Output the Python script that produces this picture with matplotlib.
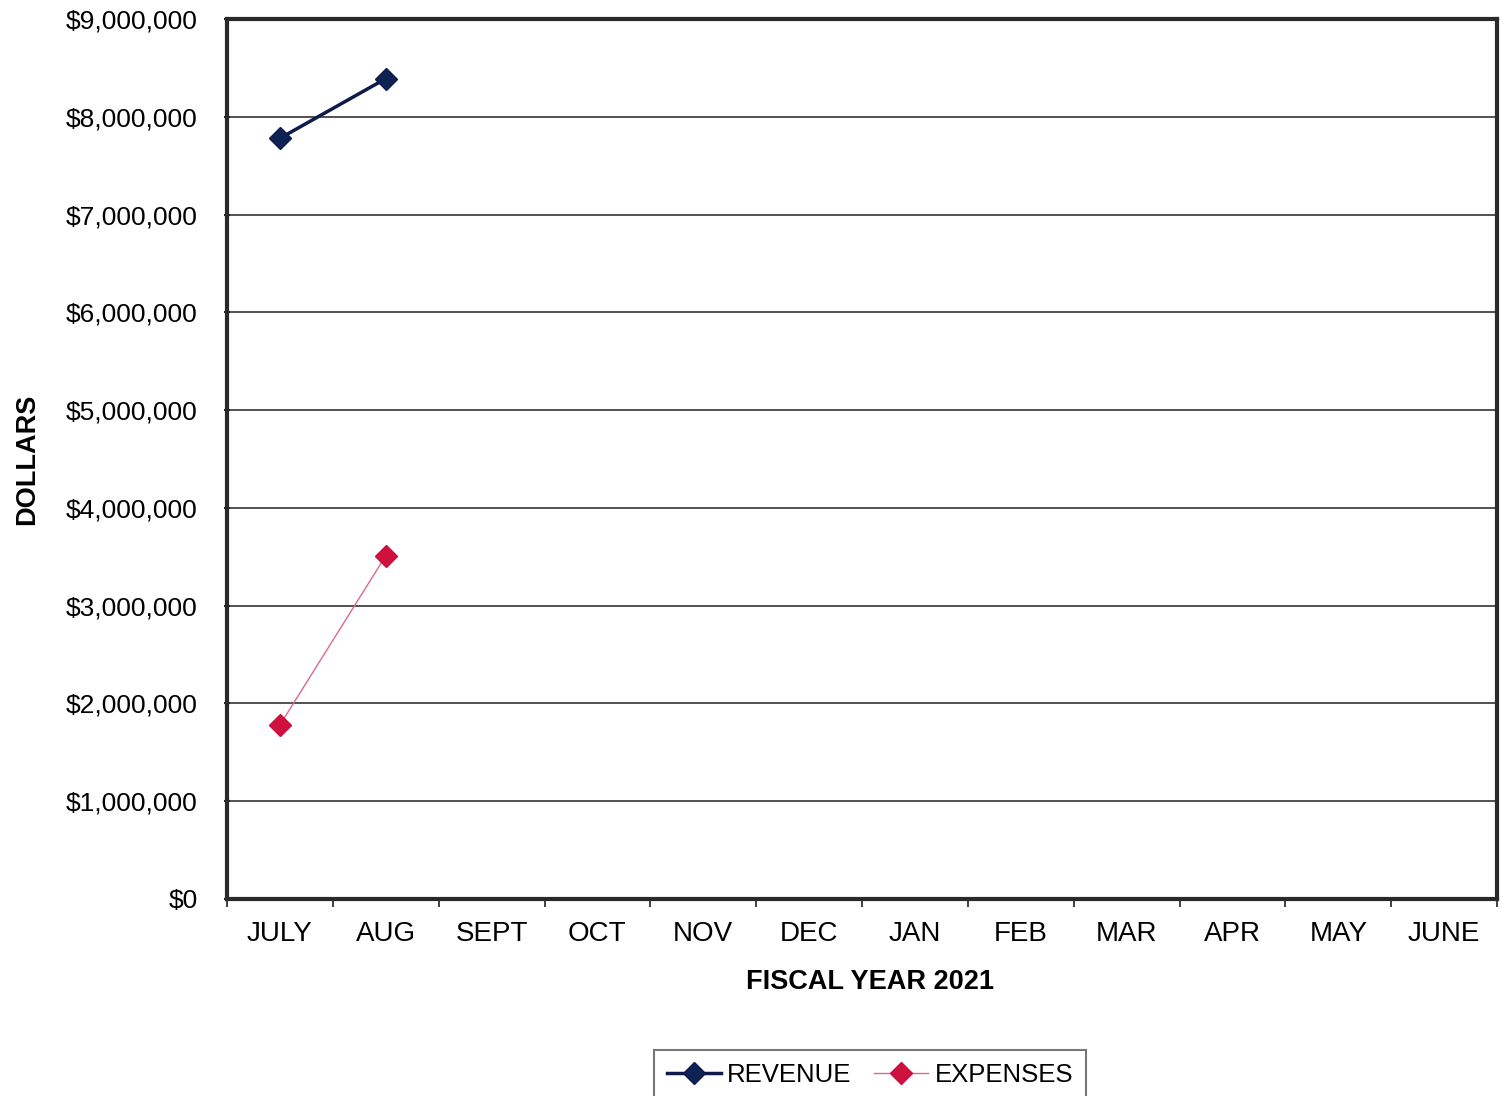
import matplotlib
matplotlib.use("Agg")
import matplotlib.pyplot as plt
from matplotlib.ticker import FuncFormatter, MultipleLocator
import numpy as np

months = ["JULY", "AUG", "SEPT", "OCT", "NOV", "DEC", "JAN", "FEB", "MAR", "APR", "MAY", "JUNE"]
revenue = [7780000, 8390000]
expenses = [1780000, 3510000]

plt.rcParams["font.family"] = ["Liberation Sans", "DejaVu Sans"]

W, H = 1501, 1096
fig = plt.figure(figsize=(W / 100, H / 100), dpi=100)
ax = fig.add_axes([227 / W, 1 - 899 / H, (1497 - 227) / W, (899 - 19) / H])

x = np.arange(len(months))
ax.plot(x[:len(revenue)], revenue, color="#0d1a4a", lw=2.5, marker="D", ms=11,
        mfc="#0f2256", mec="#0d1a4a", label="REVENUE", zorder=4)
ax.plot(x[:len(expenses)], expenses, color="#d86a8a", lw=1.0, marker="D", ms=11,
        mfc="#d0103f", mec="#c80f3c", label="EXPENSES", zorder=4)

ax.set_xlim(-0.5, len(months) - 0.5)
ax.set_ylim(0, 9000000)
ax.yaxis.set_major_locator(MultipleLocator(1000000))
ax.yaxis.set_major_formatter(FuncFormatter(lambda v, p: f"${v:,.0f}"))
ax.grid(axis="y", color="#333333", lw=1.2)
ax.set_axisbelow(True)

ax.set_xticks(x)
ax.set_xticklabels(months, fontsize=20)
ax.set_xticks(np.arange(-0.5, len(months)), minor=True)
ax.tick_params(axis="x", which="major", length=0, pad=16)
ax.tick_params(axis="x", which="minor", length=6, width=1.2, direction="out", color="#222222")
ax.tick_params(axis="y", which="major", labelsize=19, length=5, width=1.5, direction="inout",
               pad=18.5, color="#222222")

for s in ax.spines.values():
    s.set_color("#2a2a2a")
    s.set_linewidth(3)

ax.set_xlabel("FISCAL YEAR 2021", fontsize=19.5, fontweight="bold")
ax.xaxis.set_label_coords((870 - 227) / (1497 - 227), -(982 - 899) / (899 - 19), transform=ax.transAxes)
ax.set_ylabel("DOLLARS", fontsize=19.5, fontweight="bold")
ax.yaxis.set_label_coords(-(227 - 27) / (1497 - 227), 0.5, transform=ax.transAxes)
ax.xaxis.label.set_va("center")
ax.yaxis.label.set_va("center")

leg = fig.legend(loc="lower center", bbox_to_anchor=(870 / W, -0.015), ncol=2, fontsize=18.5,
                 frameon=True, fancybox=False, edgecolor="#555555", handlelength=2.1,
                 columnspacing=0.9, handletextpad=0.25, borderpad=0.5)
leg.get_frame().set_linewidth(1.5)

fig.savefig("out.png", dpi=100)
